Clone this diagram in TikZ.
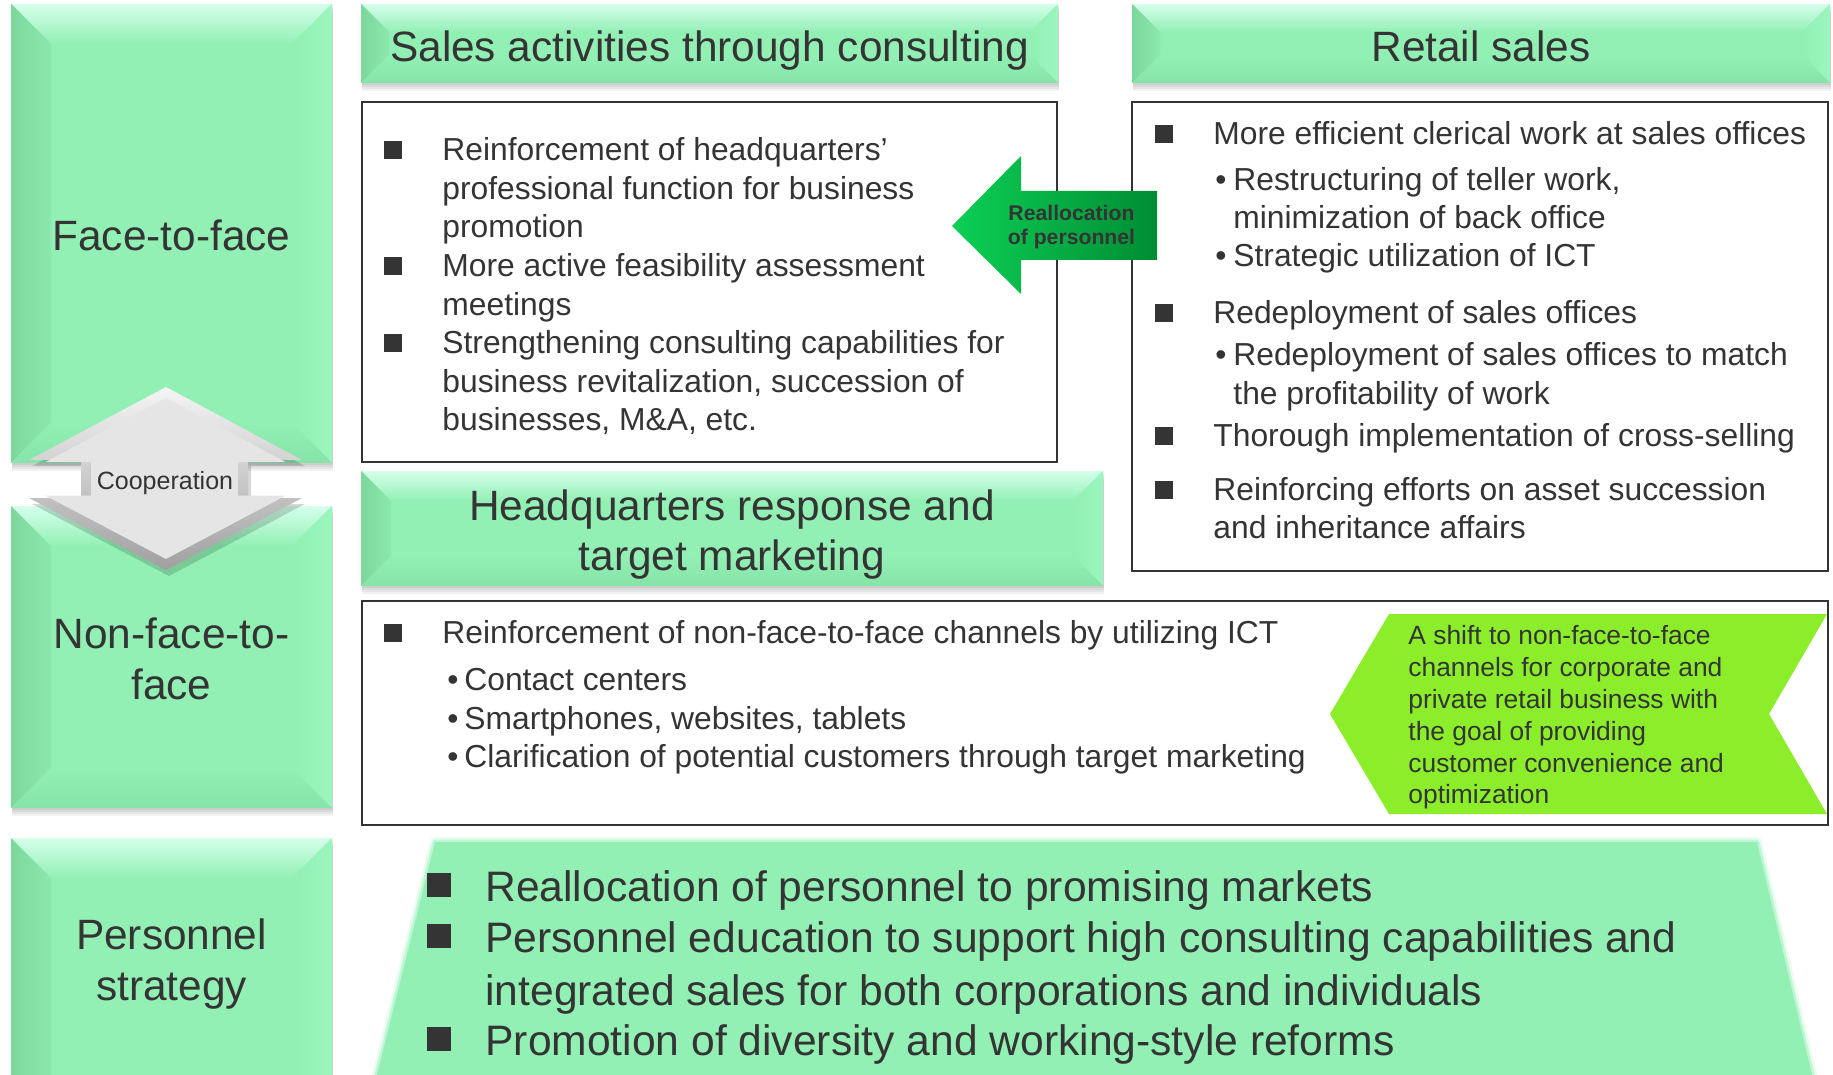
\documentclass[tikz,border=0pt]{standalone}
\usepackage{fontspec}
\setmainfont{Liberation Sans}
\usetikzlibrary{calc}

\definecolor{gbase}{RGB}{146,240,180}
\definecolor{gtop}{RGB}{214,255,236}
\definecolor{gleft}{RGB}{124,215,156}
\definecolor{gright}{RGB}{154,246,190}
\definecolor{gbottom}{RGB}{134,228,168}
\definecolor{ink}{RGB}{52,52,52}
\definecolor{lime}{RGB}{140,238,42}
\definecolor{arrowlight}{RGB}{12,208,84}
\definecolor{arrowdark}{RGB}{0,140,52}
\definecolor{coopgrey}{RGB}{229,229,229}

\newcommand\fsHead{\fontsize{21.2pt}{25pt}\selectfont}
\newcommand\fsBody{\fontsize{15.9pt}{19pt}\selectfont}
\newcommand\fsBig{\fontsize{21.3pt}{25pt}\selectfont}
\newcommand\fsNote{\fontsize{13.2pt}{16pt}\selectfont}
\newcommand\fsCoop{\fontsize{12.5pt}{15pt}\selectfont}
\newcommand\fsArrow{\fontsize{10.6pt}{12pt}\selectfont\bfseries}

% bevelled green panel: x1 y1 x2 y2 bevel
\newcommand\bevelbox[5]{%
  \foreach \s in {2,4,6,8}{\fill[black,opacity=0.05] ({#1+1},{#2+\s}) rectangle ({#3+1},{#4+\s});}
  \fill[gbase] (#1,#2) rectangle (#3,#4);
  \shade[top color=gtop, bottom color=gbase] (#1,#2) -- (#3,#2) -- ({#3-#5},{#2+#5}) -- ({#1+#5},{#2+#5}) -- cycle;
  \shade[left color=gleft, right color=gleft!30!gbase] (#1,#2) -- ({#1+#5},{#2+#5}) -- ({#1+#5},{#4-#5}) -- (#1,#4) -- cycle;
  \shade[left color=gbase, right color=gright] (#3,#2) -- ({#3-#5},{#2+#5}) -- ({#3-#5},{#4-#5}) -- (#3,#4) -- cycle;
  \shade[top color=gbase, bottom color=gbottom] (#1,#4) -- ({#1+#5},{#4-#5}) -- ({#3-#5},{#4-#5}) -- (#3,#4) -- cycle;
}

% double arrow between the two channel panels
\newcommand\coopPath{(166,387) -- (302,460) -- (248,460) -- (248,498) -- (302,498) -- (166,570) -- (29,498) -- (81,498) -- (81,460) -- (29,460) -- cycle}

\begin{document}
\begin{tikzpicture}[x=0.5pt,y=-0.5pt,
  bodytxt/.style={anchor=base west, inner sep=0pt, text=ink, font=\fsBody, yshift=-1.15pt},
  notetxt/.style={anchor=base west, inner sep=0pt, text=ink, font=\fsNote, yshift=-0.6pt},
  bigtxt/.style={anchor=base west, inner sep=0pt, text=ink, font=\fsBig},
  headtxt/.style={anchor=base, inner sep=0pt, text=ink, font=\fsHead},
  sqbullet/.style={fill=ink, minimum size=9pt, inner sep=0pt, anchor=center, yshift=-1.15pt},
  bigsq/.style={fill=ink, minimum size=12pt, inner sep=0pt, anchor=center},
  boxline/.style={draw=ink, line width=1pt},
]
\path[use as bounding box] (0,0) rectangle (1833,1075);
\clip (0,0) rectangle (1833,1075);
\fill[white] (0,0) rectangle (1833,1075);

% ---------- channel panels (left column) ----------
\bevelbox{11}{4}{332}{463}{40}
\bevelbox{11}{506}{332}{808}{40}
\bevelbox{11}{838}{332}{1130}{40}

\node[headtxt] (face) at (171.5,251) {Face-to-face};
\node[headtxt] (nonface1) at (171.5,648) {Non-face-to-};
\node[headtxt] (nonface2) at (171.5,699) {face};
\node[headtxt] (pers1) at (171.5,949) {Personnel};
\node[headtxt] (pers2) at (171.5,1000) {strategy};

% ---------- headers ----------
\bevelbox{361}{4}{1058}{83}{28}
\bevelbox{1132}{4}{1830}{83}{28}
\bevelbox{361}{471}{1103}{586}{30}

\node[headtxt] (salesh) at (709.5,62) {Sales activities through consulting};
\node[headtxt] (retailh) at (1481,62) {Retail sales};
\node[headtxt] (hq1) at (732,520) {Headquarters response and};
\node[headtxt] (hq2) at (732,570) {target marketing};

% ---------- content boxes ----------
\draw[boxline] (362,102) rectangle (1057,462);
\draw[boxline] (1132,102) rectangle (1828,571);
\draw[boxline] (362,601) rectangle (1828,825);

% sales activities through consulting
\node[sqbullet] (sb1) at (392.5,148) {};
\node[bodytxt] (sa1) at (442,158.5) {Reinforcement of headquarters’};
\node[bodytxt] (sa2) at (442,197) {professional function for business};
\node[bodytxt] (sa3) at (442,235.6) {promotion};
\node[sqbullet] (sb2) at (392.5,263.5) {};
\node[bodytxt] (sa4) at (442,274) {More active feasibility assessment};
\node[bodytxt] (sa5) at (442,313) {meetings};
\node[sqbullet] (sb3) at (392.5,340.5) {};
\node[bodytxt] (sa6) at (442,351) {Strengthening consulting capabilities for};
\node[bodytxt] (sa7) at (442,390) {business revitalization, succession of};
\node[bodytxt] (sa8) at (442,428.5) {businesses, M\&A, etc.};

% retail sales
\node[sqbullet] (rb1) at (1164,131.5) {};
\node[bodytxt] (ra1) at (1213,142) {More efficient clerical work at sales offices};
\node[bodytxt] (rd1) at (1215,188) {\textbullet};
\node[bodytxt] (ra2) at (1233,188) {Restructuring of teller work,};
\node[bodytxt] (ra3) at (1233,226) {minimization of back office};
\node[bodytxt] (rd2) at (1215,264) {\textbullet};
\node[bodytxt] (ra4) at (1233,264) {Strategic utilization of ICT};
\node[sqbullet] (rb2) at (1164,310.5) {};
\node[bodytxt] (ra5) at (1213,321) {Redeployment of sales offices};
\node[bodytxt] (rd3) at (1215,363) {\textbullet};
\node[bodytxt] (ra6) at (1233,363) {Redeployment of sales offices to match};
\node[bodytxt] (ra7) at (1233,402) {the profitability of work};
\node[sqbullet] (rb3) at (1164,433.5) {};
\node[bodytxt] (ra8) at (1213,444) {Thorough implementation of cross-selling};
\node[sqbullet] (rb4) at (1164,487.5) {};
\node[bodytxt] (ra9) at (1213,498) {Reinforcing efforts on asset succession};
\node[bodytxt] (ra10) at (1213,536) {and inheritance affairs};

% non-face-to-face channels
\node[sqbullet] (nb1) at (392.5,630.5) {};
\node[bodytxt] (na1) at (442,641) {Reinforcement of non-face-to-face channels by utilizing ICT};
\node[bodytxt] (nd1) at (447,688) {\textbullet};
\node[bodytxt] (na2) at (464,688) {Contact centers};
\node[bodytxt] (nd2) at (447,727) {\textbullet};
\node[bodytxt] (na3) at (464,727) {Smartphones, websites, tablets};
\node[bodytxt] (nd3) at (447,765) {\textbullet};
\node[bodytxt] (na4) at (464,765) {Clarification of potential customers through target marketing};

% shift chevron
\fill[lime] (1330,714) -- (1389,614) -- (1827,614) -- (1769,714) -- (1827,814) -- (1389,814) -- cycle;
\node[notetxt] (c1) at (1408,643) {A shift to non-face-to-face};
\node[notetxt] (c2) at (1408,675) {channels for corporate and};
\node[notetxt] (c3) at (1408,707) {private retail business with};
\node[notetxt] (c4) at (1408,739) {the goal of providing};
\node[notetxt] (c5) at (1408,771) {customer convenience and};
\node[notetxt] (c6) at (1408,802) {optimization};

% ---------- reallocation arrow ----------
\shade[left color=arrowlight, right color=arrowdark]
  (952,226) -- (1021,156) -- (1021,191) -- (1157,191) -- (1157,260) -- (1021,260) -- (1021,294) -- cycle;
\node[anchor=base, inner sep=0pt, text=ink, font=\fsArrow] (re1) at (1071.5,221) {Reallocation};
\node[anchor=base, inner sep=0pt, text=ink, font=\fsArrow] (re2) at (1071.5,245) {of personnel};

% ---------- cooperation double arrow ----------
\fill[black, opacity=0.16, shift={(3,6)}] \coopPath;
\shade[top color=gray!8, middle color=gray!55, bottom color=gray!75] \coopPath;
\begin{scope}[shift={(166,478)}, scale=0.88, shift={(-166,-478)}]
  \fill[coopgrey] \coopPath;
\end{scope}
\node[anchor=base, inner sep=0pt, text=ink, font=\fsCoop] (coop) at (165,489) {Cooperation};

% ---------- personnel strategy panel ----------
\draw[gbase, line width=5pt, opacity=0.2, line join=round] (435,842) -- (1757,842) -- (1812,1075) -- (377,1075) -- cycle;
\draw[gbase, line width=2.5pt, opacity=0.45, line join=round] (435,842) -- (1757,842) -- (1812,1075) -- (377,1075) -- cycle;
\fill[gbase] (435,842) -- (1757,842) -- (1812,1075) -- (377,1075) -- cycle;

\node[bigsq] (pb1) at (439,885) {};
\node[bigtxt] (p1) at (485,901) {Reallocation of personnel to promising markets};
\node[bigsq] (pb2) at (439,936) {};
\node[bigtxt] (p2) at (485,952) {Personnel education to support high consulting capabilities and};
\node[bigtxt] (p3) at (485,1005) {integrated sales for both corporations and individuals};
\node[bigsq] (pb3) at (439,1039) {};
\node[bigtxt] (p4) at (485,1055) {Promotion of diversity and working-style reforms};
\end{tikzpicture}
\end{document}
